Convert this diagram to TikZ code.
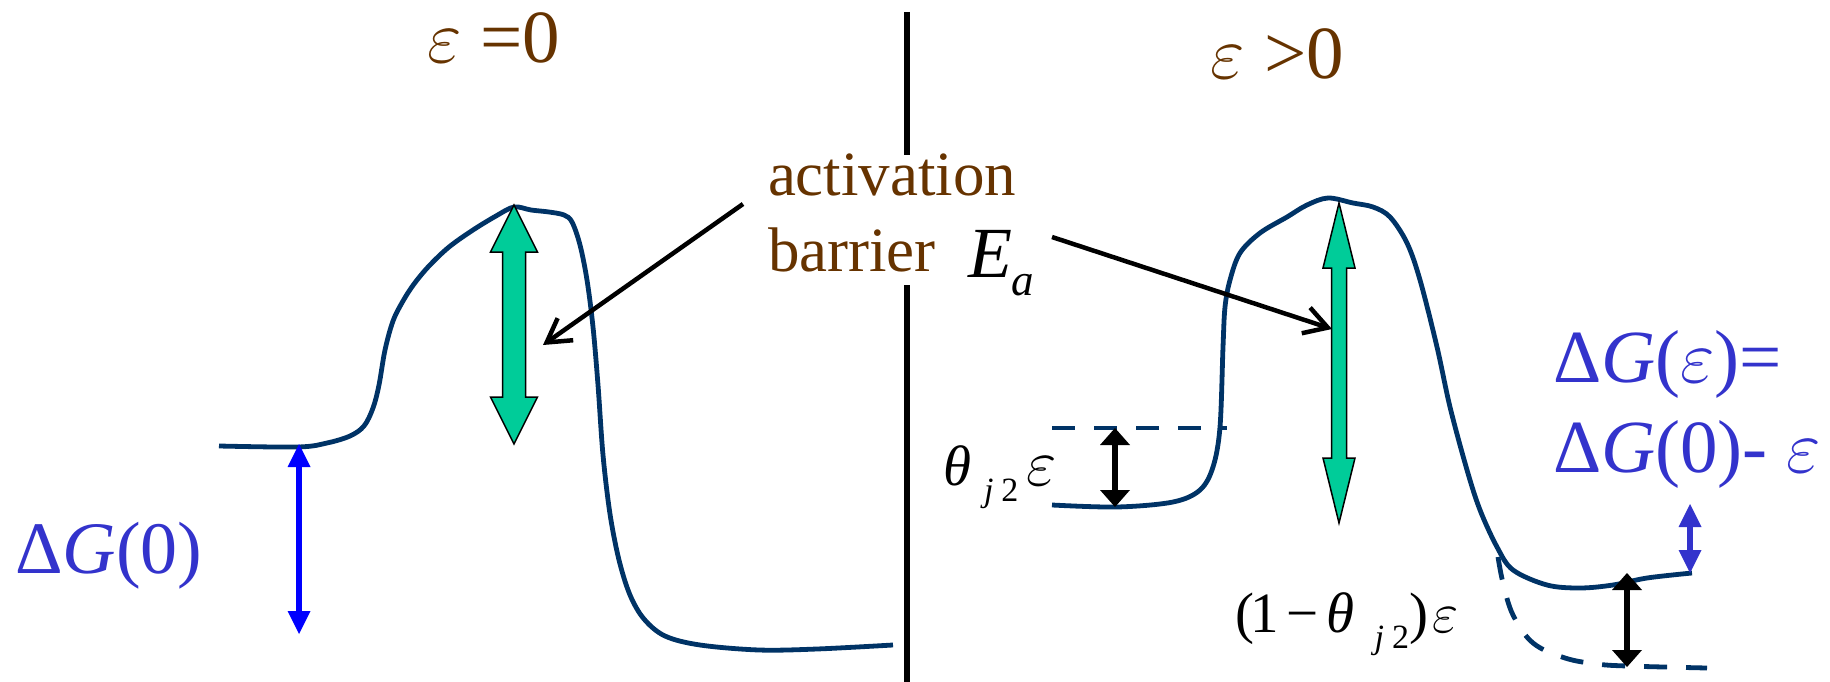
\RequirePackage{fix-cm}
\documentclass[tikz,border=0pt]{standalone}
\usepackage{fontspec}
\setmainfont{Liberation Serif}
\usetikzlibrary{arrows.meta}
\definecolor{brn}{HTML}{663300}
\definecolor{navy}{HTML}{003366}
\definecolor{lblue}{HTML}{3333CC}
\definecolor{pblue}{HTML}{0000FF}
\definecolor{grn}{HTML}{00CC99}
\newcommand\fsz[1]{\fontsize{#1}{#1}\selectfont}
\begin{document}
\begin{tikzpicture}[x=1pt,y=-1pt,
  lbl/.style={inner sep=0pt, outer sep=0pt, anchor=base west},
  energy/.style={draw=navy, line width=4.8pt, line join=round},
  level/.style={energy, dash pattern=on 23pt off 19pt},
  gbar/.style={fill=grn, draw=black, line width=1.5pt, line join=miter},
  pointer/.style={draw=black, line width=4.5pt, -{Straight Barb[length=23pt,width=27pt,line width=4.5pt]}},
  dimk/.style={draw=black, line width=6pt, {Triangle[length=17pt,width=30pt,line width=0pt]}-{Triangle[length=17pt,width=30pt,line width=0pt]}},
  dimb/.style={line width=6pt, {Triangle[length=23pt,width=23pt,line width=0pt]}-{Triangle[length=23pt,width=23pt,line width=0pt]}},
  divider/.style={draw=black, line width=6pt}
]
\useasboundingbox (0,0) rectangle (1830,682);

% divider
\coordinate (dA) at (907,12);  \coordinate (dB) at (907,155);
\coordinate (dC) at (907,285); \coordinate (dD) at (907,682);
\draw[divider] (dA) -- (dB);
\draw[divider] (dC) -- (dD);

% headings
\node[lbl, text=brn, font=\fsz{75}] (h0) at (427,63) {$\varepsilon$\hspace{19pt}=0};
\node[lbl, text=brn, font=\fsz{75}] (h1) at (1210,79) {$\varepsilon$\hspace{20pt}>0};

% activation barrier label
\node[lbl, text=brn, font=\fsz{63}] (act) at (768,195) {activation};
\node[lbl, text=brn, font=\fsz{63}] (bar) at (768,271) {barrier};
\node[lbl, font=\fsz{72}] (Ea) at (968,277) {\textit{E}\raisebox{-18pt}{\fsz{45}\textit{a}}};

% left energy curve
\draw[energy] plot[smooth, tension=0.55] coordinates {
 (219,446) (298,447) (327,443) (350,436) (364,426) (373,408) (379,385)
 (385,350) (393,321) (403,301) (414,284) (429,266) (449,247) (473,230)
 (496,216) (514,207) (531,210) (549,212) (564,215) (572,222) (580,245)
 (587,280) (593,327) (598,385) (603,455) (610,514) (619,560) (630,595)
 (644,619) (665,636) (700,645) (759,650) (817,649) (893,645)};

% right energy curve
\draw[energy] plot[smooth, tension=0.55] coordinates {
 (1052,505) (1117,507) (1173,502) (1200,490) (1213,467) (1220,427)
 (1223,347) (1225,307) (1230,280) (1240,253) (1260,233) (1287,217)
 (1307,205) (1328,198) (1353,203) (1373,207) (1390,217) (1407,243)
 (1420,280) (1437,347) (1450,407) (1467,470) (1480,510) (1497,547)
 (1513,570) (1547,585) (1580,588) (1613,585) (1647,578) (1692,573)};

% dashed levels
\coordinate (lv1a) at (1052,428); \coordinate (lv1b) at (1227,428);
\draw[level] (lv1a) -- (lv1b);
\draw[level] plot[smooth, tension=0.6] coordinates {
 (1498,557) (1503,583) (1513,615) (1533,643) (1565,658) (1597,664) (1627,666) (1707,668)};

% green barrier arrows
\draw[gbar] (514,205) -- (537.5,252) -- (525.5,252) -- (525.5,397) -- (537.5,397)
  -- (514,444) -- (490.5,397) -- (502.5,397) -- (502.5,252) -- (490.5,252) -- cycle;
\draw[gbar] (1339,203) -- (1355,268) -- (1346.5,268) -- (1346.5,458) -- (1355,458)
  -- (1339,523) -- (1323,458) -- (1331.5,458) -- (1331.5,268) -- (1323,268) -- cycle;

% pointers
\coordinate (pL0) at (743,204); \coordinate (pL1) at (543,345);
\coordinate (pR0) at (1052,237); \coordinate (pR1) at (1332,329);
\draw[pointer] (pL0) -- (pL1);
\draw[pointer] (pR0) -- (pR1);

% Delta G(0) left
\coordinate (g0a) at (299,444); \coordinate (g0b) at (299,634);
\draw[dimb, draw=pblue, fill=pblue] (g0a) -- (g0b);
\node[lbl, text=lblue, font=\fsz{74}] (dg0) at (15,573) {Δ\textit{G}(0)};

% theta arrow
\coordinate (t0) at (1115,428); \coordinate (t1) at (1115,507);
\draw[dimk, fill=black] (t0) -- (t1);
\node[lbl, font=\fsz{57}] (thl) at (943,485)
  {\textit{θ}\hspace{13pt}\raisebox{-16pt}{\fsz{34}\textit{j}\hspace{8pt}2}\hspace{8pt}{\fsz{66}$\varepsilon$}};

% (1-theta) arrow
\coordinate (b0) at (1627,573); \coordinate (b1) at (1627,667);
\draw[dimk, fill=black] (b0) -- (b1);
\node[lbl, font=\fsz{57}] (oml) at (1235,632)
  {(\hspace{-4pt}1\hspace{8pt}−\hspace{8pt}\textit{θ}\hspace{20pt}\raisebox{-16pt}{\fsz{34}\textit{j}\hspace{8pt}2})\hspace{4pt}$\varepsilon$};

% Delta G(eps) right
\coordinate (ge0) at (1690,504); \coordinate (ge1) at (1690,573);
\draw[dimb, draw=lblue, fill=lblue] (ge0) -- (ge1);
\node[lbl, text=lblue, font=\fsz{75}] (dge1) at (1553,382) {Δ\textit{G}($\varepsilon$)=};
\node[lbl, text=lblue, font=\fsz{75}] (dge2) at (1553,472) {Δ\textit{G}(0)- $\varepsilon$};
\end{tikzpicture}
\end{document}
